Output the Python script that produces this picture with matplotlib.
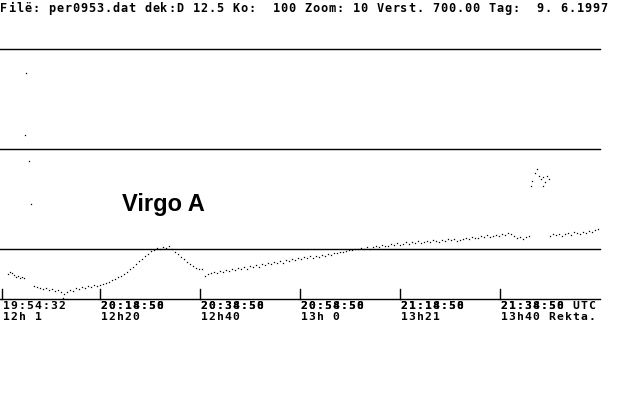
import matplotlib
matplotlib.use("Agg")
import matplotlib.pyplot as plt
import numpy as np

# header line of the old DOS plot program
header = "Filë: per0953.dat dek:D 12.5 Ko:  100 Zoom: 10 Verst. 700.00 Tag:  9. 6.1997"

# x = sample number (one per screen column), level = receiver output
seg1_x = np.arange(8, 25, 2)
seg1_y = [25, 27, 26, 24, 22, 23, 21, 22, 21]

seg2_x = np.arange(34, 203, 3)
seg2_y = [13, 12, 11, 10, 11, 9, 10, 8, 9, 7,
          5, 7, 9, 8, 11, 10, 12, 11, 13, 12,
          14, 13, 14, 15, 16, 17, 19, 20, 22, 23,
          25, 27, 30, 32, 35, 38, 40, 43, 45, 48,
          49, 51, 50, 52, 51, 53, 50, 47, 45, 42,
          40, 37, 35, 33, 31, 30, 30]

seg3_x = np.arange(205, 530, 3)
seg3_y = [23, 25, 26, 27, 26, 28, 27, 29, 28, 30,
          29, 31, 30, 32, 30, 33, 32, 34, 32, 35,
          34, 36, 35, 37, 36, 38, 36, 39, 38, 40,
          39, 41, 40, 42, 41, 43, 41, 43, 42, 44,
          43, 45, 44, 46, 46, 47, 47, 48, 49, 49,
          50, 50, 51, 50, 52, 50, 52, 53, 52, 54,
          53, 53, 55, 54, 56, 54, 55, 57, 55, 57,
          56, 58, 56, 57, 58, 57, 59, 58, 57, 59,
          58, 60, 59, 60, 58, 59, 60, 61, 60, 62,
          61, 61, 63, 62, 64, 62, 63, 64, 63, 65,
          64, 66, 65, 63, 61, 62, 60, 62, 63]

seg4_x = np.arange(550, 599, 3)
seg4_y = [63, 65, 64, 65, 63, 65, 66, 64, 67, 66, 65, 67, 66, 68, 67, 69, 70]

# single outliers / spikes
spike_x = [26, 25, 29, 31, 63, 532, 535, 537, 539, 541, 543, 545, 547, 549, 531, 543]
spike_y = [226, 164, 138, 95, 1, 118, 126, 130, 123, 120, 122, 117, 123, 120, 113, 113]

grid_levels = [50, 150, 250]
tick_pos = [2, 100, 200, 300, 400, 500]
tick_utc = ["19:54:32", "20:18:50", "20:38:50", "20:58:50", "21:18:50", "21:38:50 UTC"]
tick_utc2 = ["", "20:14:58", "20:34:58", "20:54:58", "21:14:58", "21:34:58"]
tick_ra = ["12h 1", "12h20", "12h40", "13h 0", "13h21", "13h40 Rekta."]

fig = plt.figure(figsize=(6.4, 4.0), dpi=100)
ax = fig.add_axes([0, 0, 1, 1])
ax.set_xlim(0, 640)
ax.set_ylim(-101, 299)
ax.axis("off")


def dos_text(x, y, s, size=8.6):
    # fixed 8 pixel character cells like the 8x8 bitmap font
    for i, ch in enumerate(s):
        if ch == " ":
            continue
        ax.text(x + 8 * i + 4, y, ch, ha="center", va="top",
                family="DejaVu Sans Mono", weight="bold", fontsize=size, color="black")


for g in grid_levels:
    ax.plot([0, 600], [g, g], color="black", linewidth=1.0)
ax.plot([0, 600], [0, 0], color="black", linewidth=1.0)
for t in tick_pos:
    ax.plot([t, t], [0, 10], color="black", linewidth=1.0)

for xs, ys in [(seg1_x, seg1_y), (seg2_x, seg2_y), (seg3_x, seg3_y), (seg4_x, seg4_y)]:
    ax.plot(xs, ys, "s", color="black", markersize=0.9, markeredgewidth=0)
ax.plot(spike_x, spike_y, "s", color="black", markersize=0.9, markeredgewidth=0)

ax.text(122, 88, "Virgo A", ha="left", va="baseline", family="Liberation Sans",
        weight="bold", fontsize=17, color="black")

dos_text(0, 297, header)
for t, a, b, r in zip(tick_pos, tick_utc, tick_utc2, tick_ra):
    dos_text(t, -2, a, 8.2)
    if b:
        dos_text(t, -2, b, 8.2)
    dos_text(t, -13, r, 8.2)

fig.savefig("out.png", dpi=100, facecolor="white")
